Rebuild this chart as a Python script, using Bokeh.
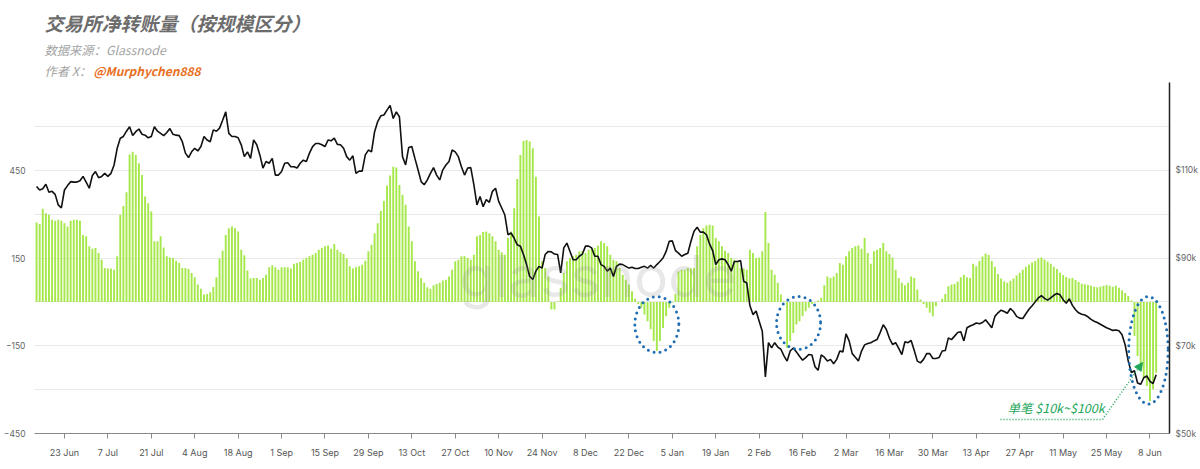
import numpy as np
import pandas as pd
from bokeh.plotting import figure
from bokeh.layouts import column
from bokeh.models import (Range1d, LinearAxis, FixedTicker, Label, Arrow, NormalHead)
from bokeh.embed import file_html
from bokeh.resources import INLINE

# ---------------- data ----------------
START_DATE = "2025-06-14"

# daily net exchange transfer volume (left axis)
flow_jun_aug = [271, 266, 318, 303, 298, 281, 277, 281, 277, 269, 258, 277, 281, 281, 277, 229, 224, 190, 182, 184,
                167, 144, 116, 114, 114, 110, 156, 298, 328, 375, 504, 513, 502, 474, 434, 360, 337, 309, 207, 207,
                224, 186, 156, 152, 150, 141, 133, 116, 116, 112, 99, 84, 59, 45, 25, 27, 33, 51, 84, 148, 175, 229]
flow_aug_oct = [252, 258, 252, 241, 178, 159, 107, 80, 82, 82, 76, 82, 93, 118, 125, 118, 110, 118, 118,
                118, 114, 130, 133, 136, 144, 150, 156, 161, 167, 178, 184, 190, 193, 182, 198, 178, 170, 164, 148,
                122, 114, 118, 122, 127, 141, 173, 195, 235, 269, 311, 345, 398, 432, 462, 459, 400, 366, 332, 258, 207]
flow_oct_dec = [139, 105, 82, 65, 50, 45, 57, 61, 65, 73, 76, 87, 110, 139, 144, 156, 156, 150, 144,
                161, 224, 229, 239, 241, 235, 224, 207, 178, 170, 161, 218, 241, 320, 420, 502, 550, 553, 548, 525,
                428, 292, 139, 116, 87, -26, -26, 2, 48, 99, 139, 150, 156, 161, 173, 173, 167, 178, 184, 184, 193, 207]
flow_dec_feb = [201, 190, 161, 144, 139, 116, 93, 76, 59, 36, 11, -7, -20, -43, -66, -94, -134, -168, -134, -89,
                -49, -20, -3, 27, 105, 110, 110, 116, 114, 116, 190, 229, 252, 261, 264, 261, 218, 207, 190,
                175, 167, 150, 144, 139, 116, 114, 110, 178, 167, 150, 152, 173, 307, 201, 110, 93, 65, 25, 2]
flow_feb_apr = [-157, -134, -106, -77, -66, -49, -32, -20, -7, -2, 5, 14, 57, 87, 82, 87, 99, 133, 127, 156,
                173, 184, 190, 193, 182, 218, 167, 130, 173, 178, 184, 201, 173, 164, 152, 110, 82, 65, 57, 65,
                87, 82, 42, 8, -7, -20, -37, -49, -15, 0, 11, 27, 53, 59, 61, 70, 84, 93, 84, 82, 130, 122]
flow_apr_jun = [140, 155, 165, 160, 140, 120, 95, 80, 70, 65, 72, 80, 90, 100, 110, 120, 128, 135, 140, 148,
                152, 145, 138, 130, 120, 112, 100, 92, 85, 80, 82, 75, 68, 62, 60, 58, 55, 52, 50, 52,
                55, 58, 55, 52, 55, 48, 40, 30, 20, 5, -117, -185, -220, -259, -288, -339, -299, -242]

# BTC price, thousands of USD (right axis)
price_jun_aug = [106.3, 105.5, 105.8, 106.8, 105.0, 105.2, 104.5, 102.1, 101.4, 105.5, 106.5, 107.4, 107.3, 107.3,
                 107.6, 108.6, 107.3, 105.9, 108.8, 109.7, 108.3, 108.6, 109.3, 108.6, 109.3, 111.2, 115.0, 117.3,
                 117.7, 118.9, 119.9, 117.9, 118.8, 119.4, 118.2, 118.0, 117.4, 117.7, 119.9, 118.9, 118.4, 117.9,
                 118.6, 119.5, 118.2, 118.0, 117.9, 116.5, 113.9, 112.9, 114.2, 115.0, 114.4, 115.4, 117.7, 116.9,
                 116.5, 119.2, 118.9, 119.6, 121.4, 123.3]
price_aug_oct = [118.4, 117.7, 117.7, 117.4, 115.8, 113.1, 114.2, 112.7, 116.9, 115.8, 113.5, 110.5, 112.0, 111.6,
                 112.7, 108.9, 108.9, 109.7, 111.6, 111.7, 110.8, 110.8, 110.5, 111.6, 112.3, 112.0, 113.9,
                 115.4, 116.1, 116.1, 115.8, 115.4, 116.9, 116.7, 117.3, 115.9, 115.8, 115.0, 113.1, 112.3, 113.3,
                 109.3, 109.8, 109.8, 113.5, 114.6, 114.2, 118.8, 121.1, 122.4, 122.6, 123.7, 124.8, 121.8, 123.3,
                 122.2, 113.1, 111.2, 115.2, 115.4]
price_oct_dec = [112.7, 110.1, 107.4, 106.7, 107.8, 109.3, 110.6, 108.9, 107.8, 110.1, 111.2, 112.0, 114.6, 114.2,
                 113.1, 110.8, 108.9, 110.5, 110.6, 106.7, 102.1, 104.0, 101.7, 103.3, 102.7, 105.2, 105.9,
                 102.9, 101.4, 99.8, 95.3, 95.7, 94.5, 93.0, 92.7, 90.8, 88.5, 85.8, 85.1, 87.0, 88.1, 87.7, 90.8,
                 91.5, 91.4, 90.9, 90.8, 86.6, 92.3, 93.4, 91.5, 89.6, 89.6, 90.4, 90.9, 92.7, 92.7, 92.3, 90.4,
                 90.4, 88.5]
price_dec_feb = [88.1, 87.0, 87.7, 85.8, 88.1, 88.6, 88.5, 88.1, 87.7, 87.9, 87.6, 87.6, 87.9, 88.1, 87.7, 88.3,
                 87.7, 88.5, 89.2, 90.0, 91.5, 93.8, 93.9, 91.7, 91.1, 90.4, 90.8, 91.1, 93.8, 96.1, 97.0, 95.9,
                 95.9, 95.3, 93.2, 91.7, 88.5, 89.6, 89.8, 89.6, 88.5, 87.0, 89.2, 89.2, 89.4, 84.7, 84.3, 79.2,
                 77.1, 77.9, 75.6, 73.3, 62.9, 70.7, 69.5, 70.7, 69.7, 69.2, 67.7]
price_feb_apr = [66.5, 68.8, 69.5, 68.6, 67.6, 66.7, 67.3, 68.0, 67.9, 65.2, 64.4, 67.9, 67.4, 66.5, 66.9, 65.9,
                 66.9, 68.8, 68.6, 72.7, 71.1, 68.2, 67.4, 66.5, 68.8, 70.2, 70.5, 70.7, 71.1, 71.4, 73.0, 74.8,
                 73.7, 71.7, 70.3, 70.7, 69.4, 68.0, 70.9, 70.7, 71.2, 68.9, 66.5, 66.1, 66.9, 68.2, 68.2, 67.1,
                 67.1, 67.3, 68.8, 68.9, 71.8, 71.4, 72.2, 73.0, 73.2, 71.1, 74.1, 74.5, 74.8, 75.2]
price_apr_jun = [75.0, 75.3, 75.9, 75.0, 74.1, 76.7, 77.5, 78.1, 77.8, 77.4, 78.5, 77.8, 76.7, 76.3, 76.2, 77.3,
                 78.3, 79.1, 80.0, 80.9, 81.4, 80.8, 80.4, 80.9, 81.5, 81.9, 81.6, 80.5, 79.7, 80.7, 79.2, 78.2,
                 77.5, 77.2, 77.0, 76.6, 76.0, 75.6, 75.3, 74.9, 74.5, 74.1, 73.8, 73.5, 73.6, 73.4, 72.5, 70.2,
                 66.5, 63.9, 64.3, 61.5, 61.2, 62.7, 63.1, 61.9, 61.4, 63.4]

left_ticks = [-450, -150, 150, 450]
left_grid = [-450, -300, -150, 0, 150, 300, 450, 600, 750]
right_ticks = [50, 70, 90, 110]
right_tick_labels = ["$50k", "$70k", "$90k", "$110k"]
x_tick_dates = pd.date_range("2025-06-23", "2026-06-08", freq="14D")
x_tick_labels = ["23 Jun", "7 Jul", "21 Jul", "4 Aug", "18 Aug", "1 Sep", "15 Sep", "29 Sep", "13 Oct",
                 "27 Oct", "10 Nov", "24 Nov", "8 Dec", "22 Dec", "5 Jan", "19 Jan", "2 Feb", "16 Feb",
                 "2 Mar", "16 Mar", "30 Mar", "13 Apr", "27 Apr", "11 May", "25 May", "8 Jun"]

net_flow = flow_jun_aug + flow_aug_oct + flow_oct_dec + flow_dec_feb + flow_feb_apr + flow_apr_jun
btc_price = price_jun_aug + price_aug_oct + price_oct_dec + price_dec_feb + price_feb_apr + price_apr_jun
n = min(len(net_flow), len(btc_price))
net_flow = net_flow[:n]
btc_price = btc_price[:n]
dates = pd.date_range(START_DATE, periods=n, freq="D")

# ---------------- styling / layout ----------------
W, H = 1200, 469
HEAD = 82                                  # header band height (canvas px)
FL, FR, FB = 32, 1169, 433                 # main frame edges in page pixels
DAY_MS = 86400000
BAR_GREEN = "#a6e84c"
GRAY_TXT = "#666666"
BLUE = "#1f6db2"
GREEN_TXT = "#22a65a"

# ---- header band (its frame is aligned with the chart frame by the column layout) ----
head = figure(width=W, height=HEAD, output_backend="svg", toolbar_location=None,
              x_range=Range1d(FL, FR), y_range=Range1d(HEAD, 0),
              x_axis_location=None, y_axis_location=None,
              min_border_left=FL, min_border_right=W - FR, min_border_top=0, min_border_bottom=0)
head.outline_line_color = None
head.grid.visible = False


def hlab(px, py, text, size, color, style="normal"):
    head.add_layout(Label(x=px, y=py, text=text, text_font="Noto Sans CJK SC", text_font_size=size,
                          text_font_style=style, text_color=color, text_baseline="middle"))


hlab(42, 22, "交易所净转账量（按规模区分）", "19px", "#6c6c6c", style="bold italic")
hlab(42, 49, "数据来源：Glassnode", "12.3px", "#a3a3a3", style="italic")
hlab(42, 70, "作者 X：", "12.3px", "#a3a3a3", style="italic")
hlab(91, 70, "@Murphychen888", "12px", "#e8701f", style="bold italic")

# ---- main chart ----
ref = pd.Timestamp("2025-06-23")
x0 = ref - pd.Timedelta(days=9.66)
x1 = ref + pd.Timedelta(days=356.3)

p = figure(width=W, height=H - HEAD, x_axis_type="datetime", output_backend="svg", toolbar_location=None,
           x_range=Range1d(x0, x1), y_range=Range1d(-450, 750),
           min_border_left=FL, min_border_right=W - FR, min_border_top=0, min_border_bottom=H - FB)
p.outline_line_color = None
p.extra_y_ranges = {"price": Range1d(50, 130)}

p.xgrid.visible = False
p.ygrid.ticker = FixedTicker(ticks=left_grid)
p.ygrid.grid_line_color = "#e9e9e9"
p.ygrid.grid_line_width = 1

ya = p.yaxis[0]
ya.ticker = FixedTicker(ticks=left_ticks)
ya.axis_line_color = None
ya.major_tick_line_color = None
ya.minor_tick_line_color = None
ya.major_tick_out = 0
ya.major_tick_in = 0
ya.major_label_standoff = 9
ya.major_label_text_font = "Inter"
ya.major_label_text_font_size = "8.5px"
ya.major_label_text_color = GRAY_TXT

ra = LinearAxis(y_range_name="price", ticker=FixedTicker(ticks=right_ticks),
                major_label_overrides={t: s for t, s in zip(right_ticks, right_tick_labels)})
ra.axis_line_color = "#222222"
ra.axis_line_width = 1.5
ra.major_tick_line_color = None
ra.minor_tick_line_color = None
ra.major_tick_out = 0
ra.major_tick_in = 0
ra.major_label_standoff = 6
ra.major_label_text_font = "Inter"
ra.major_label_text_font_size = "8.5px"
ra.major_label_text_color = GRAY_TXT
p.add_layout(ra, "right")

xa = p.xaxis[0]
tick_ms = [int(d.value // 10**6) for d in x_tick_dates]
xa.ticker = FixedTicker(ticks=tick_ms)
xa.major_label_overrides = {t: s for t, s in zip(tick_ms, x_tick_labels)}
xa.axis_line_color = "#8a8a8a"
xa.major_tick_line_color = "#8a8a8a"
xa.minor_tick_line_color = None
xa.major_tick_out = 5
xa.major_tick_in = 0
xa.major_label_standoff = 8
xa.major_label_text_font = "Inter"
xa.major_label_text_font_size = "9px"
xa.major_label_text_color = "#555555"

p.vbar(x=dates, top=net_flow, bottom=0, width=0.62 * DAY_MS, fill_color=BAR_GREEN, line_color=None)
p.line(x=dates, y=btc_price, y_range_name="price", line_color="#111111", line_width=1.6)


def lab(px, py, text, size, color, style="normal", font="Noto Sans CJK SC", baseline="middle", alpha=1.0):
    p.add_layout(Label(x=px - FL, y=FB - py, x_units="screen", y_units="screen", text=text,
                       text_font=font, text_font_size=size, text_font_style=style, text_color=color,
                       text_baseline=baseline, text_alpha=alpha))


# watermark
lab(457, 276, "glassnode", "57px", "#8c8c8c", font="Inter", baseline="alphabetic", alpha=0.2)

# dotted ellipses around the three negative dips
flow_arr = np.array(net_flow, dtype=float)


def dip_index(a, b):
    lo = dates.searchsorted(pd.Timestamp(a))
    hi = dates.searchsorted(pd.Timestamp(b))
    return lo + int(np.argmin(flow_arr[lo:hi]))


dips = [(dip_index("2025-12-15", "2026-01-15"), 0.0, 14.2, 5),
        (dip_index("2026-01-25", "2026-03-01"), 3.7, 14.2, 5),
        (dip_index("2026-05-25", "2026-06-30"), -0.5, 12.7, 10)]
ex, ey, ew, eh = [], [], [], []
for idx, shift, wdays, pad in dips:
    bottom = flow_arr[idx] - pad
    top = 18
    ex.append(dates[idx] + pd.Timedelta(days=shift))
    ey.append((top + bottom) / 2)
    ew.append(wdays * DAY_MS)
    eh.append(top - bottom)
p.ellipse(x=ex, y=ey, width=ew, height=eh, fill_color=None, line_color=BLUE, line_width=3,
          line_dash="0 6", line_cap="round")

# annotation: label + dotted arrow
lab(1005, 407, "单笔 $10k~$100k", "12.5px", GREEN_TXT, style="italic")
p.add_layout(Arrow(end=None, x_start=998 - FL, y_start=FB - 419, x_end=1100 - FL, y_end=FB - 419,
                   start_units="screen", end_units="screen", line_color=GREEN_TXT, line_width=1.5,
                   line_dash="1 2"))
p.add_layout(Arrow(end=NormalHead(size=8, fill_color=GREEN_TXT, line_color=GREEN_TXT),
                   x_start=1100 - FL, y_start=FB - 419, x_end=1140 - FL, y_end=FB - 362,
                   start_units="screen", end_units="screen", line_color=GREEN_TXT, line_width=1.5,
                   line_dash="1 2"))

open("out.html", "w").write(file_html(column(head, p, spacing=0), INLINE))
